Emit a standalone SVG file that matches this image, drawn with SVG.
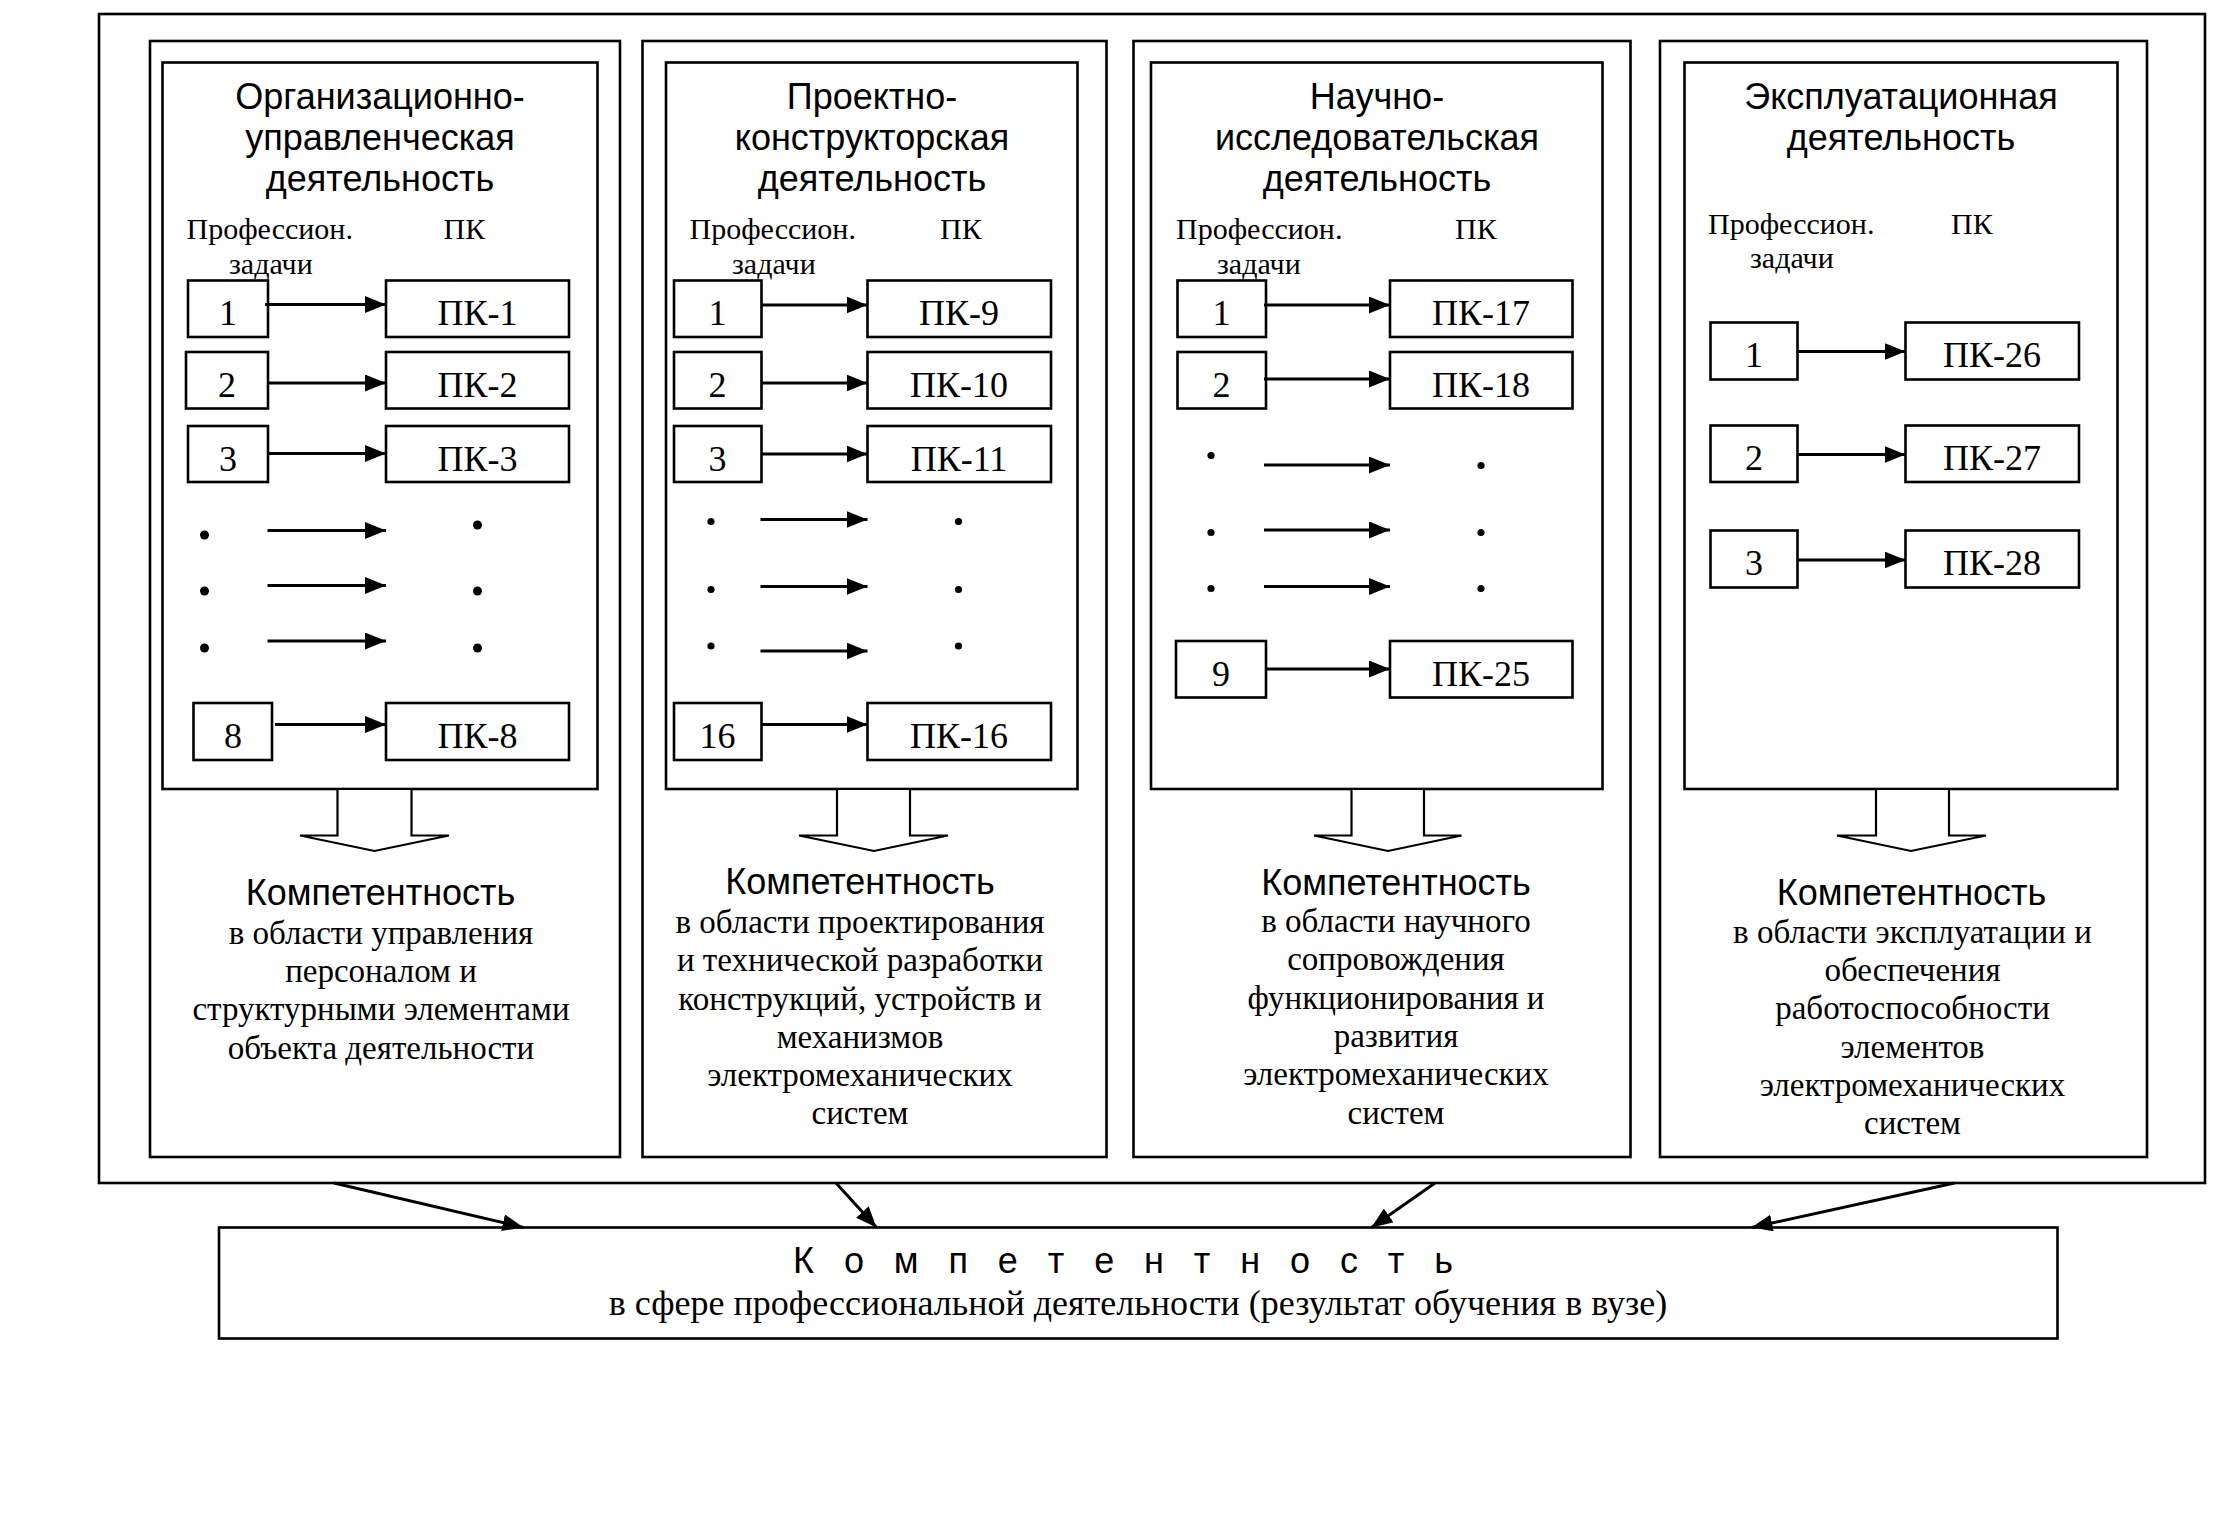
<svg xmlns="http://www.w3.org/2000/svg" width="2220" height="1520" viewBox="0 0 2220 1520">
<defs>
<marker id="ah" markerUnits="userSpaceOnUse" markerWidth="21" markerHeight="17" refX="21" refY="8.5" orient="auto">
<path d="M0,0 L21,8.5 L0,17 z" fill="#000"/>
</marker>
<style>
rect{fill:#fff;stroke:#000;stroke-width:2.6}
.frame{fill:none}
.sans{font-family:"Liberation Sans",Arial,sans-serif;font-size:36px;fill:#000;text-anchor:middle}
.lab{font-family:"Liberation Serif","Times New Roman",serif;font-size:30px;fill:#000}
.num{font-family:"Liberation Serif","Times New Roman",serif;font-size:36px;fill:#000;text-anchor:middle}
.body{font-family:"Liberation Serif","Times New Roman",serif;font-size:33px;fill:#000;text-anchor:middle}
.bot{font-family:"Liberation Serif","Times New Roman",serif;font-size:36px;fill:#000;text-anchor:middle}
.arr{stroke:#000;stroke-width:3;fill:none;marker-end:url(#ah)}
.big{stroke:#000;stroke-width:2.2;fill:#fff}
.dot{fill:#000}
</style>
</defs>
<rect id="outer" class="frame" x="99" y="14" width="2106" height="1169"/>

<g id="col1">
<rect x="150" y="41" width="470" height="1116"/>
<rect x="162.5" y="62.5" width="435" height="726.5"/>
<text class="sans" x="380" y="109">Организационно-</text>
<text class="sans" x="380" y="150">управленческая</text>
<text class="sans" x="380" y="191">деятельность</text>
<text class="lab" x="186.5" y="239">Профессион.</text>
<text class="lab" x="443.5" y="239">ПК</text>
<text class="lab" x="229" y="273.5">задачи</text>
<g id="t1"><rect x="188" y="280.5" width="80" height="56.5"/><text class="num" x="228" y="325">1</text></g>
<g id="t2"><rect x="186" y="352" width="82" height="56.5"/><text class="num" x="227" y="396.5">2</text></g>
<g id="t3"><rect x="188" y="426" width="80" height="56"/><text class="num" x="228" y="470.5">3</text></g>
<g id="t8"><rect x="193.5" y="703" width="78.5" height="57"/><text class="num" x="233" y="747.5">8</text></g>
<g id="pk1"><rect x="386" y="280.5" width="183" height="56.5"/><text class="num" x="477.5" y="325">ПК-1</text></g>
<g id="pk2"><rect x="386" y="352" width="183" height="56.5"/><text class="num" x="477.5" y="396.5">ПК-2</text></g>
<g id="pk3"><rect x="386" y="426" width="183" height="56"/><text class="num" x="477.5" y="470.5">ПК-3</text></g>
<g id="pk8"><rect x="386" y="703" width="183" height="57"/><text class="num" x="477.5" y="747.5">ПК-8</text></g>
<circle class="dot" cx="204.5" cy="535" r="4.5"/><circle class="dot" cx="204.5" cy="591" r="4.5"/><circle class="dot" cx="204.5" cy="648" r="4.5"/>
<circle class="dot" cx="477.5" cy="525" r="4.5"/><circle class="dot" cx="477.5" cy="591" r="4.5"/><circle class="dot" cx="477.5" cy="648" r="4.5"/>
<g id="comp1">
<text class="sans" x="380.5" y="904.5">Компетентность</text>
<text class="body" x="381" y="943.5">в области управления</text>
<text class="body" x="381" y="982">персоналом и</text>
<text class="body" x="381" y="1020">структурными элементами</text>
<text class="body" x="381" y="1058.5">объекта деятельности</text>
</g>
</g>

<g id="col2">
<rect x="642.5" y="41" width="464" height="1116"/>
<rect x="666" y="62.5" width="411.5" height="726.5"/>
<text class="sans" x="872" y="109">Проектно-</text>
<text class="sans" x="872" y="150">конструкторская</text>
<text class="sans" x="872" y="191">деятельность</text>
<text class="lab" x="689.5" y="239">Профессион.</text>
<text class="lab" x="940" y="239">ПК</text>
<text class="lab" x="732" y="273.5">задачи</text>
<g id="t1b"><rect x="674" y="280.5" width="87.5" height="56.5"/><text class="num" x="717.5" y="325">1</text></g>
<g id="t2b"><rect x="674" y="352" width="87.5" height="56.5"/><text class="num" x="717.5" y="396.5">2</text></g>
<g id="t3b"><rect x="674" y="426" width="87.5" height="56"/><text class="num" x="717.5" y="470.5">3</text></g>
<g id="t16"><rect x="674" y="703" width="87.5" height="57"/><text class="num" x="717.5" y="747.5">16</text></g>
<g id="pk9"><rect x="867.5" y="280.5" width="183.5" height="56.5"/><text class="num" x="959" y="325">ПК-9</text></g>
<g id="pk10"><rect x="867.5" y="352" width="183.5" height="56.5"/><text class="num" x="959" y="396.5">ПК-10</text></g>
<g id="pk11"><rect x="867.5" y="426" width="183.5" height="56"/><text class="num" x="959" y="470.5">ПК-11</text></g>
<g id="pk16"><rect x="867.5" y="703" width="183.5" height="57"/><text class="num" x="959" y="747.5">ПК-16</text></g>
<circle class="dot" cx="711" cy="521.5" r="3.6"/><circle class="dot" cx="711" cy="589.5" r="3.6"/><circle class="dot" cx="711" cy="646" r="3.6"/>
<circle class="dot" cx="958.5" cy="521.5" r="3.6"/><circle class="dot" cx="958.5" cy="589.5" r="3.6"/><circle class="dot" cx="958.5" cy="646" r="3.6"/>
<g id="comp2">
<text class="sans" x="860" y="894">Компетентность</text>
<text class="body" x="860" y="933">в области проектирования</text>
<text class="body" x="860" y="971">и технической разработки</text>
<text class="body" x="860" y="1009.5">конструкций, устройств и</text>
<text class="body" x="860" y="1047.5">механизмов</text>
<text class="body" x="860" y="1086">электромеханических</text>
<text class="body" x="860" y="1124">систем</text>
</g>
</g>

<g id="col3">
<rect x="1133.5" y="41" width="497" height="1116"/>
<rect x="1151" y="62.5" width="451.5" height="726.5"/>
<text class="sans" x="1377" y="109">Научно-</text>
<text class="sans" x="1377" y="150">исследовательская</text>
<text class="sans" x="1377" y="191">деятельность</text>
<text class="lab" x="1176" y="239">Профессион.</text>
<text class="lab" x="1455" y="239">ПК</text>
<text class="lab" x="1217" y="273.5">задачи</text>
<g id="t1c"><rect x="1177.5" y="280.5" width="88.5" height="56.5"/><text class="num" x="1221.5" y="325">1</text></g>
<g id="t2c"><rect x="1177.5" y="352" width="88.5" height="56.5"/><text class="num" x="1221.5" y="396.5">2</text></g>
<g id="t9"><rect x="1176" y="641" width="90" height="56.5"/><text class="num" x="1221" y="685.5">9</text></g>
<g id="pk17"><rect x="1390" y="280.5" width="182.5" height="56.5"/><text class="num" x="1481" y="325">ПК-17</text></g>
<g id="pk18"><rect x="1390" y="352" width="182.5" height="56.5"/><text class="num" x="1481" y="396.5">ПК-18</text></g>
<g id="pk25"><rect x="1390" y="641" width="182.5" height="56.5"/><text class="num" x="1481" y="685.5">ПК-25</text></g>
<circle class="dot" cx="1211" cy="455.5" r="3.6"/><circle class="dot" cx="1211" cy="532.5" r="3.6"/><circle class="dot" cx="1211" cy="588.5" r="3.6"/>
<circle class="dot" cx="1481" cy="465.5" r="3.6"/><circle class="dot" cx="1481" cy="532.5" r="3.6"/><circle class="dot" cx="1481" cy="588.5" r="3.6"/>
<g id="comp3">
<text class="sans" x="1396" y="894.5">Компетентность</text>
<text class="body" x="1396" y="932">в области научного</text>
<text class="body" x="1396" y="970">сопровождения</text>
<text class="body" x="1396" y="1008.5">функционирования и</text>
<text class="body" x="1396" y="1047">развития</text>
<text class="body" x="1396" y="1085">электромеханических</text>
<text class="body" x="1396" y="1123.5">систем</text>
</g>
</g>

<g id="col4">
<rect x="1660" y="41" width="487" height="1116"/>
<rect x="1684.5" y="62.5" width="433" height="726.5"/>
<text class="sans" x="1901" y="109">Эксплуатационная</text>
<text class="sans" x="1901" y="150">деятельность</text>
<text class="lab" x="1708" y="233.5">Профессион.</text>
<text class="lab" x="1951" y="233.5">ПК</text>
<text class="lab" x="1750" y="268">задачи</text>
<g id="t1d"><rect x="1710.5" y="322.5" width="87" height="57"/><text class="num" x="1754" y="367">1</text></g>
<g id="t2d"><rect x="1710.5" y="425.5" width="87" height="56.5"/><text class="num" x="1754" y="470">2</text></g>
<g id="t3d"><rect x="1710.5" y="530.5" width="87" height="57"/><text class="num" x="1754" y="575">3</text></g>
<g id="pk26"><rect x="1905.5" y="322.5" width="173.5" height="57"/><text class="num" x="1992" y="367">ПК-26</text></g>
<g id="pk27"><rect x="1905.5" y="425.5" width="173.5" height="56.5"/><text class="num" x="1992" y="470">ПК-27</text></g>
<g id="pk28"><rect x="1905.5" y="530.5" width="173.5" height="57"/><text class="num" x="1992" y="575">ПК-28</text></g>
<g id="comp4">
<text class="sans" x="1911.5" y="904.5">Компетентность</text>
<text class="body" x="1912.5" y="943">в области эксплуатации и</text>
<text class="body" x="1912.5" y="981">обеспечения</text>
<text class="body" x="1912.5" y="1019">работоспособности</text>
<text class="body" x="1912.5" y="1057.5">элементов</text>
<text class="body" x="1912.5" y="1096">электромеханических</text>
<text class="body" x="1912.5" y="1134">систем</text>
</g>
</g>

<g id="result">
<rect x="219" y="1227.5" width="1838.5" height="111"/>
<text class="sans" x="1123" y="1272.5" textLength="660" lengthAdjust="spacing">К о м п е т е н т н о с т ь</text>
<text class="bot" x="1138" y="1315">в сфере профессиональной деятельности (результат обучения в вузе)</text>
</g>

<g id="connectors">
<line class="arr" x1="265" y1="304.5" x2="386" y2="304.5"/>
<line class="arr" x1="268" y1="383" x2="386" y2="383"/>
<line class="arr" x1="268" y1="453.5" x2="386" y2="453.5"/>
<line class="arr" x1="267.5" y1="530.5" x2="386" y2="530.5"/>
<line class="arr" x1="267.5" y1="585.5" x2="386" y2="585.5"/>
<line class="arr" x1="267.5" y1="641" x2="386" y2="641"/>
<line class="arr" x1="275" y1="724.5" x2="386" y2="724.5"/>

<line class="arr" x1="761.5" y1="305" x2="867.5" y2="305"/>
<line class="arr" x1="761.5" y1="383" x2="867.5" y2="383"/>
<line class="arr" x1="761.5" y1="454" x2="867.5" y2="454"/>
<line class="arr" x1="760.5" y1="519.5" x2="867.5" y2="519.5"/>
<line class="arr" x1="760.5" y1="586.5" x2="867.5" y2="586.5"/>
<line class="arr" x1="760.5" y1="651" x2="867.5" y2="651"/>
<line class="arr" x1="761.5" y1="724.5" x2="867.5" y2="724.5"/>

<line class="arr" x1="1264" y1="305" x2="1390" y2="305"/>
<line class="arr" x1="1264" y1="379" x2="1390" y2="379"/>
<line class="arr" x1="1264" y1="465" x2="1390" y2="465"/>
<line class="arr" x1="1264" y1="530" x2="1390" y2="530"/>
<line class="arr" x1="1264" y1="586.5" x2="1390" y2="586.5"/>
<line class="arr" x1="1266" y1="669" x2="1390" y2="669"/>

<line class="arr" x1="1797.5" y1="351.5" x2="1905.5" y2="351.5"/>
<line class="arr" x1="1797.5" y1="454.5" x2="1905.5" y2="454.5"/>
<line class="arr" x1="1797.5" y1="560" x2="1905.5" y2="560"/>

<polygon class="big" points="337.5,789 337.5,835.5 300,835.5 374.5,851 449,835.5 411.5,835.5 411.5,789"/>
<polygon class="big" points="837,789 837,835.5 799,835.5 874,851 948,835.5 910,835.5 910,789"/>
<polygon class="big" points="1351.5,789 1351.5,835.5 1314,835.5 1388,851 1461.5,835.5 1424,835.5 1424,789"/>
<polygon class="big" points="1876,789 1876,835.5 1837,835.5 1911,851 1986,835.5 1949,835.5 1949,789"/>

<line class="arr" x1="334" y1="1183" x2="523.5" y2="1227.5"/>
<line class="arr" x1="836" y1="1183" x2="876.5" y2="1227.5"/>
<line class="arr" x1="1435" y1="1183" x2="1371.5" y2="1227.5"/>
<line class="arr" x1="1954.5" y1="1183" x2="1751.5" y2="1227.5"/>
</g>
</svg>
